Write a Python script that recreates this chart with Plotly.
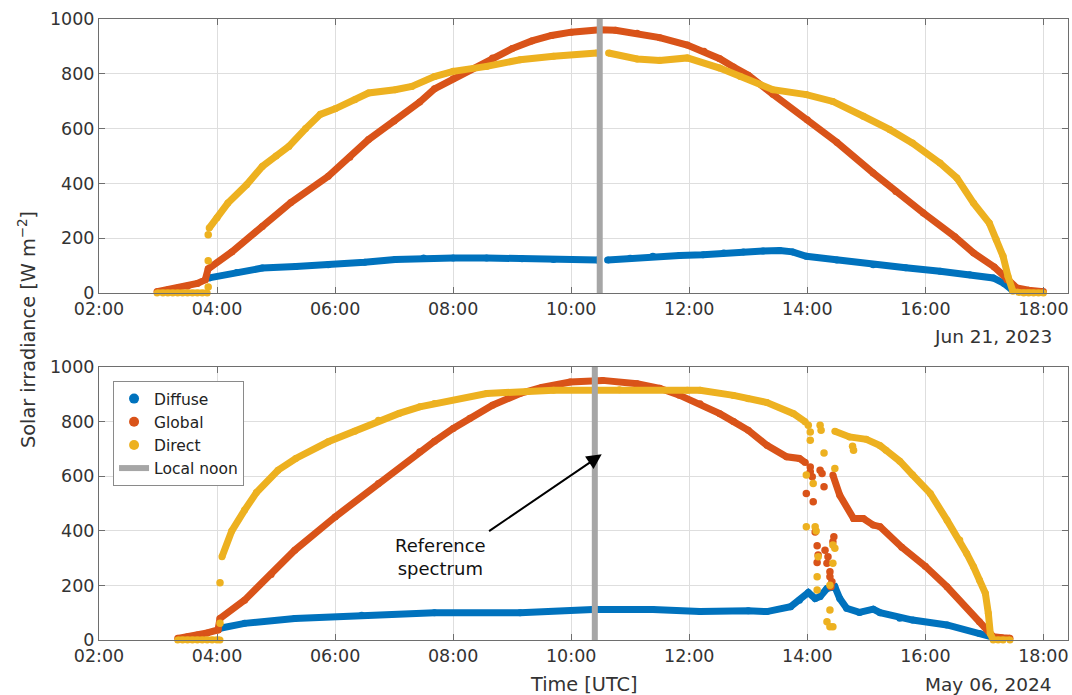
import plotly.graph_objects as go

DATE_TOP = "2023-06-21"
DATE_BOT = "2024-05-06"

# ---------------- Top panel (Jun 21, 2023) ----------------
top_diffuse_t = ["03:52", "04:20", "04:46", "05:20", "05:53", "06:30", "07:01", "07:30", "08:00", "08:34",
                 "09:10", "09:42", "10:27", None, "10:37", "11:00", "11:23", "11:50", "12:14", "12:35",
                 "12:55", "13:15", "13:32", "13:45", "13:59", "14:30", "15:07", "15:40", "16:15", "16:45",
                 "17:09", "17:20", "17:28"]
top_diffuse_v = [55, 75, 91, 97, 103, 112, 122, 128, 128, 128,
                 125, 122, 120, None, 120, 127, 134, 137, 140, 146,
                 150, 153, 155, 150, 134, 120, 103, 92, 79, 67,
                 55, 35, 12]

top_global_t = ["02:59", "03:10", "03:20", "03:30", "03:40", "03:48", "03:51", "04:15", "04:46", "05:15",
                "05:53", "06:15", "06:34", "07:00", "07:26", "07:41", "08:00", "08:17", "08:40", "09:00",
                "09:20", "09:40", "10:00", "10:29", "10:45", "11:07", "11:30", "11:58", "12:15", "12:31",
                "12:45", "13:00", "13:25", "14:00", "14:30", "15:07", "15:30", "15:58", "16:30", "16:49",
                "17:10", "17:23", "17:33", "17:45", "18:00"]
top_global_v = [5, 12, 18, 25, 35, 48, 88, 150, 243, 330,
                426, 495, 560, 628, 697, 745, 782, 815, 858, 892,
                920, 940, 952, 961, 959, 948, 932, 905, 882, 855,
                825, 795, 725, 632, 550, 438, 370, 292, 205, 146,
                95, 48, 18, 10, 5]

top_direct_t = ["02:59", "03:05", "03:10", "03:15", "03:20", "03:25", "03:30", "03:35", "03:40", "03:45",
                "03:50", None, "03:52", "04:00", "04:11", "04:30", "04:46", "05:00", "05:13", "05:30",
                "05:45", "06:00", "06:20", "06:34", "07:01", "07:18", "07:41", "08:00", "08:34", "09:08",
                "09:42", "10:26", None, "10:38", "11:07", "11:30", "11:58", "12:31", "12:52", "13:25",
                "13:59", "14:26", "14:57", "15:24", "15:47", "16:15", "16:32", "16:49", "17:05", "17:12",
                "17:19", "17:24", "17:29", "17:35", "17:40", "17:45", "17:50", "17:55", "18:00"]
top_direct_v = [0, 0, 0, 0, 0, 0, 0, 0, 0, 0,
                0, None, 237, 275, 328, 395, 462, 500, 535, 600,
                652, 672, 705, 730, 742, 754, 790, 809, 827, 851,
                864, 876, None, 876, 854, 849, 858, 821, 790, 742,
                724, 699, 645, 596, 547, 474, 420, 328, 255, 195,
                134, 61, 6, 2, 0, 0, 0, 0, 0]

top_direct_sc_t = ["03:51", "03:51", "03:51"]
top_direct_sc_v = [22, 118, 213]

NOON_TOP = "10:29"

# ---------------- Bottom panel (May 06, 2024) ----------------
bot_diffuse_t = ["04:03", "04:28", "05:19", "06:27", "07:41", "09:08", "10:22", "11:23", "12:11", "13:00",
                 "13:19", "13:43", "13:52", "14:01", "14:08", "14:13", "14:20", "14:28", "14:33", "14:40",
                 "14:53", "15:07", "15:14", "15:34", "15:47", "16:22", "16:55", "17:09"]
bot_diffuse_v = [43, 61, 79, 91, 100, 100, 112, 112, 104, 107,
                 104, 122, 146, 174, 152, 159, 189, 195, 152, 116,
                 101, 113, 100, 80, 73, 55, 24, 10]

bot_global_t = ["03:20", "03:30", "03:40", "03:50", "04:01", "04:03", "04:28", "04:55", "05:19", "06:00",
                "06:44", "07:26", "07:41", "08:00", "08:17", "08:40", "09:08", "09:30", "09:59", "10:32",
                "11:07", "11:30", "11:50", "12:11", "12:31", "12:45", "13:00", "13:19", "13:39", "13:52",
                "13:58", None, "14:26", "14:33", "14:47", "14:57", "15:07", "15:14", "15:36", "16:00",
                "16:22", "16:55", "17:09", "17:18", "17:26"]
bot_global_v = [6, 12, 18, 26, 37, 79, 146, 240, 329, 451,
                573, 690, 728, 775, 812, 860, 903, 925, 945, 951,
                939, 922, 897, 865, 829, 800, 768, 713, 671, 665,
                650, None, 604, 530, 445, 445, 421, 415, 340, 270,
                195, 67, 12, 8, 6]

bot_direct_t = ["03:20", "03:25", "03:30", "03:35", "03:40", "03:45", "03:50", "03:55", "04:00", "04:03",
                None, "04:05", "04:15", "04:28", "04:40", "05:02", "05:20", "05:53", "06:20", "06:44",
                "07:05", "07:26", "07:41", "08:34", "09:42", "10:49", "11:58", "12:11", "12:45", "13:00",
                "13:19", "13:46", "13:58", None, "14:28", "14:43", "15:00", "15:14", "15:20", "15:34",
                "15:47", "16:05", "16:22", "16:35", "16:42", "16:49", "16:55", "17:01", "17:04", "17:06",
                "17:09", "17:14", "17:19", "17:26"]
bot_direct_v = [0, 0, 0, 0, 0, 0, 0, 0, 0, 0,
                None, 305, 400, 476, 540, 622, 665, 726, 765, 805,
                830, 854, 866, 903, 915, 917, 915, 915, 896, 884,
                870, 829, 799, None, 765, 744, 735, 712, 695, 655,
                605, 537, 439, 366, 317, 268, 220, 171, 98, 24,
                0, 0, 0, 0]

bot_global_sc_t = ["14:03", "14:03", "14:05", "14:13", "14:15", "14:17", "13:59", "14:06", "14:08", "14:10",
                   "14:18", "14:21", "14:11", "14:10", "14:20", "14:27", "14:26", "14:23", "14:23", "14:25",
                   "14:24"]
bot_global_sc_v = [634, 616, 598, 622, 610, 561, 537, 506, 396, 345,
                   329, 305, 311, 284, 281, 378, 360, 250, 232, 213,
                   195]

bot_direct_sc_t = ["04:03", "04:03", "14:01", "14:03", "14:13", "14:14", "14:03", "14:17", "13:59", "14:06",
                   "13:59", "14:08", "14:09", "14:11", "14:10", "14:28", "14:26", "14:28", "14:26", "14:23",
                   "14:10", "14:23", "14:20", "14:23", "14:26", "14:46", "14:47"]
bot_direct_sc_v = [61, 210, 787, 762, 787, 768, 732, 685, 604, 573,
                   415, 415, 399, 305, 232, 628, 348, 336, 281, 201,
                   183, 110, 67, 49, 49, 710, 695]

NOON_BOT = "10:24"

C_DIFF = "#0072BD"
C_GLOB = "#D95319"
C_DIR = "#EDB120"
C_NOON = "#A6A6A6"
FONT = "DejaVu Sans"
TXT = "#333333"
TICK_SIZE = 17.5
LABEL_SIZE = 19.3


def ts(date, times):
    return [None if t is None else f"{date} {t}" for t in times]


fig = go.Figure()

# legend-only entries
for name, col in [("Diffuse", C_DIFF), ("Global", C_GLOB), ("Direct", C_DIR)]:
    fig.add_trace(go.Scatter(x=[None], y=[None], mode="markers", name=name,
                             marker=dict(color=col, size=10), showlegend=True,
                             xaxis="x2", yaxis="y2"))


def band(date, t, v, col, ax):
    fig.add_trace(go.Scatter(x=ts(date, t), y=v, mode="lines+markers",
                             line=dict(color=col, width=7), marker=dict(color=col, size=7),
                             connectgaps=False, cliponaxis=False, showlegend=False,
                             xaxis=ax[0], yaxis=ax[1], hoverinfo="skip"))


def dots(date, t, v, col, ax):
    fig.add_trace(go.Scatter(x=ts(date, t), y=v, mode="markers",
                             marker=dict(color=col, size=7.5), cliponaxis=False, showlegend=False,
                             xaxis=ax[0], yaxis=ax[1], hoverinfo="skip"))


AX_T = ("x", "y")
AX_B = ("x2", "y2")

band(DATE_TOP, top_diffuse_t, top_diffuse_v, C_DIFF, AX_T)
band(DATE_TOP, top_global_t, top_global_v, C_GLOB, AX_T)
band(DATE_TOP, top_direct_t, top_direct_v, C_DIR, AX_T)
dots(DATE_TOP, top_direct_sc_t, top_direct_sc_v, C_DIR, AX_T)

band(DATE_BOT, bot_diffuse_t, bot_diffuse_v, C_DIFF, AX_B)
band(DATE_BOT, bot_global_t, bot_global_v, C_GLOB, AX_B)
dots(DATE_BOT, bot_global_sc_t, bot_global_sc_v, C_GLOB, AX_B)
band(DATE_BOT, bot_direct_t, bot_direct_v, C_DIR, AX_B)
dots(DATE_BOT, bot_direct_sc_t, bot_direct_sc_v, C_DIR, AX_B)

# local noon lines
fig.add_trace(go.Scatter(x=ts(DATE_TOP, [NOON_TOP, NOON_TOP]), y=[0, 1000], mode="lines",
                         line=dict(color=C_NOON, width=6), showlegend=False,
                         xaxis="x", yaxis="y", hoverinfo="skip"))
fig.add_trace(go.Scatter(x=ts(DATE_BOT, [NOON_BOT, NOON_BOT]), y=[0, 1000], mode="lines",
                         line=dict(color=C_NOON, width=6), name="Local noon", showlegend=True,
                         xaxis="x2", yaxis="y2", hoverinfo="skip"))

AXCOL = "#6e6e6e"
GRID = "#dedede"
common_x = dict(type="date", tickformat="%H:%M", dtick=7200000, ticks="inside", ticklen=6,
                tickcolor=AXCOL, showline=True, linecolor=AXCOL, linewidth=1, mirror="ticks",
                showgrid=True, gridcolor=GRID, gridwidth=1, zeroline=False,
                tickfont=dict(family=FONT, size=TICK_SIZE, color=TXT))
common_y = dict(range=[0, 1000], dtick=200, ticks="inside", ticklen=6,
                tickcolor=AXCOL, showline=True, linecolor=AXCOL, linewidth=1, mirror="ticks",
                showgrid=True, gridcolor=GRID, gridwidth=1, zeroline=False,
                tickfont=dict(family=FONT, size=TICK_SIZE, color=TXT))

fig.update_layout(
    width=1072, height=695,
    margin=dict(l=99, r=4, t=19, b=55),
    paper_bgcolor="white", plot_bgcolor="white",
    font=dict(family=FONT, size=TICK_SIZE, color=TXT),
    xaxis=dict(common_x, domain=[0, 1], anchor="y",
               range=[f"{DATE_TOP} 02:00", f"{DATE_TOP} 18:25"], tick0=f"{DATE_TOP} 02:00"),
    yaxis=dict(common_y, domain=[0.5588, 1], anchor="x"),
    xaxis2=dict(common_x, domain=[0, 1], anchor="y2",
                range=[f"{DATE_BOT} 02:00", f"{DATE_BOT} 18:25"], tick0=f"{DATE_BOT} 02:00"),
    yaxis2=dict(common_y, domain=[0, 0.4396], anchor="x2"),
    legend=dict(x=0.0145, y=0.417, xanchor="left", yanchor="top",
                bgcolor="white", bordercolor="#8a8a8a", borderwidth=1,
                font=dict(family=FONT, size=15.5, color="#222222"), tracegroupgap=0),
    showlegend=True,
)

ann = []
ann.append(dict(text="Solar irradiance [W m<sup>−2</sup>]", xref="paper", yref="paper",
                x=-0.0743, y=0.4992, textangle=-90, showarrow=False,
                font=dict(family=FONT, size=LABEL_SIZE, color=TXT), xanchor="center", yanchor="middle"))
ann.append(dict(text="Jun 21, 2023", xref="paper", yref="paper", x=0.9855, y=0.488,
                xanchor="right", yanchor="middle", showarrow=False,
                font=dict(family=FONT, size=18.5, color=TXT)))
ann.append(dict(text="May 06, 2024", xref="paper", yref="paper", x=0.9855, y=-0.0709,
                xanchor="right", yanchor="middle", showarrow=False,
                font=dict(family=FONT, size=18.5, color=TXT)))
ann.append(dict(text="Time [UTC]", xref="paper", yref="paper", x=0.5, y=-0.0709,
                xanchor="center", yanchor="middle", showarrow=False,
                font=dict(family=FONT, size=LABEL_SIZE, color=TXT)))
ann.append(dict(text="Reference<br>spectrum", xref="paper", yref="paper", x=0.352, y=0.1337,
                xanchor="center", yanchor="middle", showarrow=False,
                font=dict(family=FONT, size=18, color="#111111")))
ann.append(dict(text="", xref="x2", yref="y2", x=f"{DATE_BOT} 10:31", y=680,
                axref="x2", ayref="y2", ax=f"{DATE_BOT} 08:35", ay=395,
                showarrow=True, arrowhead=2, arrowsize=1.5, arrowwidth=2, arrowcolor="black"))
fig.update_layout(annotations=ann)

fig.write_html("out.html")
